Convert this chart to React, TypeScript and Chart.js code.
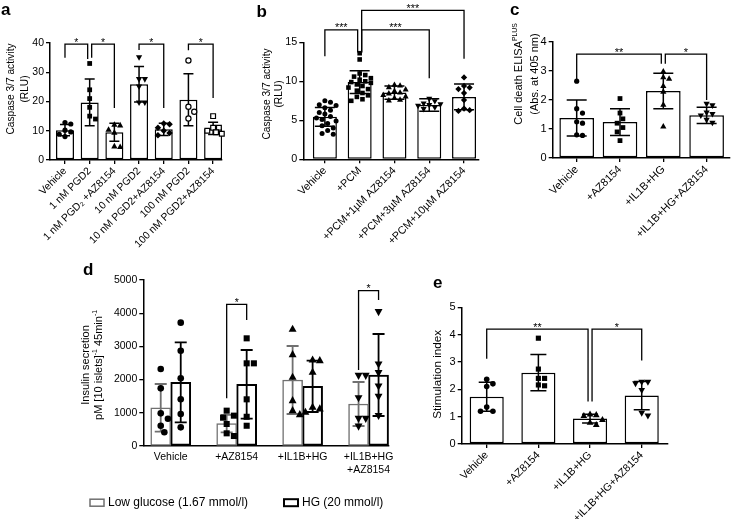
import React, { useEffect, useRef } from 'react';
import { Chart, registerables } from 'chart.js';

Chart.register(...registerables);

const FONT = "'Liberation Sans', Arial, Helvetica, sans-serif";

// ---------------- Panel a ----------------
const A_LABELS = ['Vehicle', '1 nM PGD2', '1 nM PGD\u2082 +AZ8154', '10 nM PGD2', '10 nM PGD2+AZ8154', '100 nM PGD2', '100 nM PGD2+AZ8154'];
const A_MEANS = [10.2, 19.7, 9.5, 25.9, 10.5, 20.6, 10.8];
const A_SD = [1.9, 8.0, 3.1, 6.1, 2.1, 8.9, 2.1];
const A_POINTS = [
  [12.8, 12.3, 10.2, 9.6, 8.8, 8.0],
  [33.0, 24.0, 21.0, 18.0, 15.0, 14.0],
  [12.2, 12.0, 10.5, 9.5, 4.8, 4.6],
  [35.0, 27.5, 27.5, 25.0, 19.5, 19.5],
  [12.5, 12.2, 11.0, 10.0, 9.2, 8.5],
  [34.0, 18.2, 16.5, 14.2],
  [15.0, 11.0, 11.0, 10.0, 9.5, 9.0],
];
const A_SHAPES = ['circle', 'square', 'triangle', 'triangleDown', 'diamond', 'openCircle', 'openSquare'];
const A_YTICKS = [0, 10, 20, 30, 40];
const A_BRACKETS: [number, number, number, number, number, string][] = [
  [0, 1, 39.6, 35.0, 34.5, '*'],
  [1, 2, 39.6, 35.0, 17.8, '*'],
  [3, 4, 39.6, 37.6, 17.8, '*'],
  [5, 6, 39.6, 37.5, 21.2, '*'],
];
const A_TITLE = ['Caspase 3/7 activity', '(RLU)'];

// ---------------- Panel b ----------------
const B_LABELS = ['Vehicle', '+PCM', '+PCM+1\u00b5M AZ8154', '+PCM+3\u00b5M AZ8154', '+PCM+10\u00b5M AZ8154'];
const B_MEANS = [5.45, 9.9, 8.55, 6.95, 8.0];
const B_SD = [1.2, 1.45, 0.85, 0.8, 1.65];
const B_POINTS = [
  [7.5, 7.3, 7.0, 6.9, 6.6, 6.3, 6.0, 5.8, 5.5, 5.3, 5.1, 4.9, 4.6, 4.3, 4.0, 3.7, 3.3, 3.2],
  [13.6, 12.8, 11.0, 10.8, 10.6, 10.4, 10.2, 10.0, 9.9, 9.8, 9.6, 9.4, 9.2, 9.0, 8.8, 8.5, 8.2, 8.0, 7.7, 7.5],
  [9.6, 9.5, 9.3, 9.0, 8.8, 8.6, 8.5, 8.3, 8.1, 7.9, 7.7, 7.6],
  [7.7, 7.4, 7.1, 7.0, 6.9, 6.8, 6.6, 6.4],
  [10.5, 9.4, 9.2, 9.0, 8.5, 7.6, 6.5, 6.3, 6.2],
];
const B_SHAPES = ['circle', 'square', 'triangle', 'triangleDown', 'diamond'];
const B_YTICKS = [0, 5, 10, 15];
const B_BRACKETS: [number, number, number, number, number, string][] = [
  [0, 1, 16.6, 13.2, 13.7, '***'],
  [1, 3, 16.6, 13.7, 10.4, '***'],
  [1, 4, 19.1, 13.7, 12.9, '***'],
];
const B_TITLE = ['Caspase 3/7 activity', '(RLU)'];

// ---------------- Panel c ----------------
const C_LABELS = ['Vehicle', '+AZ8154', '+IL1B+HG', '+IL1B+HG+AZ8154'];
const C_MEANS = [1.38, 1.24, 2.31, 1.47];
const C_SD = [0.62, 0.46, 0.61, 0.28];
const C_POINTS = [
  [2.65, 1.7, 1.55, 1.25, 1.2, 0.8, 0.78],
  [2.05, 1.55, 1.35, 1.2, 1.05, 0.9, 0.6],
  [3.0, 2.8, 2.75, 2.5, 2.3, 1.85, 1.1],
  [1.85, 1.8, 1.55, 1.5, 1.45, 1.3, 1.2],
];
const C_SHAPES = ['circle', 'square', 'triangle', 'triangleDown'];
const C_YTICKS = [0, 1, 2, 3, 4];
const C_BRACKETS: [number, number, number, number, number, string][] = [
  [0, 2, 3.58, 2.72, 3.25, '**'],
  [2, 3, 3.58, 3.25, 2.0, '*'],
];
const C_TITLE = ['Cell death ELISA^{PLUS}', '(Abs. at 405 nm)'];

// ---------------- Panel d ----------------
const D_LABELS: (string | string[])[] = ['Vehicle', '+AZ8154', '+IL1B+HG', ['+IL1B+HG', '+AZ8154']];
const D_SERIES_LABELS = ['Low glucose (1.67 mmol/l)', 'HG (20 mmol/l)'];
const D_LG_MEANS = [1150, 673, 1988, 1265];
const D_LG_SD = [717, 262, 1024, 663];
const D_HG_MEANS = [1918, 1857, 1797, 2138];
const D_HG_SD = [1204, 1035, 773, 1235];
const D_LG_POINTS = [
  [2320, 1737, 984, 823, 612, 412],
  [1064, 914, 853, 663, 382, 301],
  [3534, 2771, 2088, 1386, 1084, 964],
  [2108, 2108, 1436, 813, 813, 582],
];
const D_HG_POINTS = [
  [3715, 2871, 2038, 1406, 964, 562],
  [3243, 2490, 2490, 1406, 880, 610],
  [2610, 2590, 2240, 1185, 1135, 1034],
  [4030, 2450, 2190, 1790, 1480, 900],
];
const D_SHAPES = ['circle', 'square', 'triangle', 'triangleDown'];
const D_YTICKS = [0, 1000, 2000, 3000, 4000, 5000];
// [group, group, top, end low-glucose leg, end HG leg, text]
const D_BRACKETS: [number, number, number, number, number, string][] = [
  [1, 1, 4267, 1436, 3795, '*'],
  [3, 3, 4679, 2290, 4398, '*'],
];
const D_TITLE = ['Insulin secretion', 'pM [10 islets]^{-1} 45min^{-1}'];

// ---------------- Panel e ----------------
const E_LABELS = ['Vehicle', '+AZ8154', '+IL1B+HG', '+IL1B+HG+AZ8154'];
const E_MEANS = [1.73, 2.61, 0.93, 1.77];
const E_SD = [0.53, 0.66, 0.16, 0.52];
const E_POINTS = [
  [2.37, 2.2, 2.1, 1.35, 1.2, 1.2],
  [3.87, 2.74, 2.4, 2.4, 2.16, 2.13],
  [1.1, 1.08, 1.05, 0.9, 0.8, 0.72],
  [2.25, 2.25, 2.2, 1.95, 1.12, 1.02],
];
const E_SHAPES = ['circle', 'square', 'triangle', 'triangleDown'];
const E_YTICKS = [0, 1, 2, 3, 4, 5];
const E_BRACKETS: [number, number, number, number, number, string][] = [
  [0, 2, 4.2, 3.12, 1.55, '**'],
  [2, 3, 4.2, 1.55, 3.05, '*'],
];
const E_TITLE = ['Stimulation index'];

// ---------------- types ----------------
interface Series {
  label: string;
  means: number[];
  sd: number[];
  points: number[][];
  shapes: string[];
  color: string;
  bw: number;
  errColor: string;
}
interface Br { a: [number, number]; b: [number, number]; top: number; ea: number; eb: number; t: string }
interface Spec {
  left: number; top: number; w: number; h: number;
  L: number; R: number; T: number; B: number;
  xMin: number; xMax: number;
  yTicks: number[];
  labels: (string | string[])[];
  rot: number; font: number; yFont: number; xTickMarks: boolean; labelPad: number;
  barPct?: number; barThickness?: number;
  series: Series[];
  cap: number; pd: number; errW: number;
  brackets: Br[];
  title: string[]; titleX: number[]; titleY: number; titleSize: number;
  letter: string; letterX: number; letterY: number;
  legend?: { x: number[]; y: number; size: number };
}

const single = (label: string, means: number[], sd: number[], points: number[][], shapes: string[]): Series => ({
  label, means, sd, points, shapes, color: '#000', bw: 1.5, errColor: '#000',
});
const br1 = (arr: [number, number, number, number, number, string][]): Br[] =>
  arr.map(([f, t, top, ea, eb, s]) => ({ a: [f, 0], b: [t, 0], top, ea, eb, t: s }));

// ---------------- drawing helpers ----------------
function swarm(ys: number[], d: number, maxOff: number): number[] {
  const placed: { x: number; y: number }[] = [];
  const out: number[] = [];
  const step = d * 0.5;
  for (const y of ys) {
    let chosen: number | null = null;
    let bestOff = 0;
    let bestDist = -1;
    for (let k = 0; k < 60; k++) {
      const off = (k % 2 === 1 ? 1 : -1) * Math.ceil(k / 2) * step;
      if (Math.abs(off) > maxOff) continue;
      let minD = Infinity;
      for (const p of placed) minD = Math.min(minD, Math.hypot(p.x - off, p.y - y));
      if (minD >= d) { chosen = off; break; }
      if (minD > bestDist) { bestDist = minD; bestOff = off; }
    }
    const o = chosen === null ? bestOff : chosen;
    placed.push({ x: o, y });
    out.push(o);
  }
  return out;
}

function drawShape(ctx: CanvasRenderingContext2D, shape: string, x: number, y: number, r: number) {
  const open = shape === 'openCircle' || shape === 'openSquare';
  const base = shape === 'openCircle' ? 'circle' : shape === 'openSquare' ? 'square' : shape;
  ctx.beginPath();
  if (base === 'circle') {
    ctx.arc(x, y, r, 0, Math.PI * 2);
  } else if (base === 'square') {
    const h = r * 0.92;
    ctx.rect(x - h, y - h, 2 * h, 2 * h);
  } else if (base === 'triangle') {
    const h = r * 1.2;
    ctx.moveTo(x, y - h);
    ctx.lineTo(x + h, y + h * 0.8);
    ctx.lineTo(x - h, y + h * 0.8);
    ctx.closePath();
  } else if (base === 'triangleDown') {
    const h = r * 1.2;
    ctx.moveTo(x, y + h);
    ctx.lineTo(x + h, y - h * 0.8);
    ctx.lineTo(x - h, y - h * 0.8);
    ctx.closePath();
  } else if (base === 'diamond') {
    const h = r * 1.25;
    ctx.moveTo(x, y - h);
    ctx.lineTo(x + h, y);
    ctx.lineTo(x, y + h);
    ctx.lineTo(x - h, y);
    ctx.closePath();
  }
  if (open) {
    ctx.fillStyle = '#fff';
    ctx.fill();
    ctx.lineWidth = 1.2;
    ctx.strokeStyle = '#000';
    ctx.stroke();
  } else {
    ctx.fillStyle = '#000';
    ctx.fill();
  }
}

function parseSegs(s: string): { t: string; sup: boolean }[] {
  const out: { t: string; sup: boolean }[] = [];
  const re = /\^\{([^}]*)\}/g;
  let last = 0;
  let m: RegExpExecArray | null;
  while ((m = re.exec(s))) {
    if (m.index > last) out.push({ t: s.slice(last, m.index), sup: false });
    out.push({ t: m[1], sup: true });
    last = m.index + m[0].length;
  }
  if (last < s.length) out.push({ t: s.slice(last), sup: false });
  return out;
}

function overlay(sp: Spec) {
  return {
    id: 'overlay' + sp.letter,
    afterDraw(chart: any) {
      const ctx: CanvasRenderingContext2D = chart.ctx;
      const ys = chart.scales.y;
      ctx.save();
      // error bars + points
      sp.series.forEach((s, k) => {
        const meta = chart.getDatasetMeta(k);
        s.means.forEach((m, i) => {
          const el = meta.data[i];
          const cx = el.x;
          const halfW = el.width / 2;
          const yt = ys.getPixelForValue(m + s.sd[i]);
          const yb = ys.getPixelForValue(Math.max(0, m - s.sd[i]));
          ctx.strokeStyle = s.errColor;
          ctx.lineWidth = sp.errW;
          ctx.beginPath();
          ctx.moveTo(cx, yt);
          ctx.lineTo(cx, yb);
          ctx.moveTo(cx - sp.cap, yt);
          ctx.lineTo(cx + sp.cap, yt);
          ctx.moveTo(cx - sp.cap, yb);
          ctx.lineTo(cx + sp.cap, yb);
          ctx.stroke();
          const pys = s.points[i].map((v) => ys.getPixelForValue(v));
          const offs = swarm(pys, sp.pd + 0.6, halfW + 1);
          pys.forEach((py, j) => drawShape(ctx, s.shapes[i], cx + offs[j], py, sp.pd / 2));
        });
      });
      // brackets
      ctx.strokeStyle = '#000';
      ctx.lineWidth = 1.3;
      ctx.fillStyle = '#000';
      ctx.font = `${sp.font}px ${FONT}`;
      ctx.textAlign = 'center';
      ctx.textBaseline = 'alphabetic';
      const same = (p: [number, number], q: [number, number]) => p[0] === q[0] && p[1] === q[1];
      sp.brackets.forEach((b, bi) => {
        const sharedL = sp.brackets.some((o, oi) => oi !== bi && same(o.b, b.a));
        const sharedR = sp.brackets.some((o, oi) => oi !== bi && same(o.a, b.b));
        const xa = chart.getDatasetMeta(b.a[1]).data[b.a[0]].x + (sharedL ? 2 : 0);
        const xb = chart.getDatasetMeta(b.b[1]).data[b.b[0]].x - (sharedR ? 2 : 0);
        const yt = ys.getPixelForValue(b.top);
        ctx.beginPath();
        ctx.moveTo(xa, ys.getPixelForValue(b.ea));
        ctx.lineTo(xa, yt);
        ctx.lineTo(xb, yt);
        ctx.lineTo(xb, ys.getPixelForValue(b.eb));
        ctx.stroke();
        ctx.fillText(b.t, (xa + xb) / 2, yt + 1.5);
      });
      // y title
      sp.title.forEach((line, li) => {
        const segs = parseSegs(line);
        ctx.save();
        ctx.translate(sp.titleX[li], sp.titleY);
        ctx.rotate(-Math.PI / 2);
        ctx.textAlign = 'left';
        ctx.textBaseline = 'middle';
        const widths = segs.map((sg) => {
          ctx.font = `${sg.sup ? sp.titleSize * 0.62 : sp.titleSize}px ${FONT}`;
          return ctx.measureText(sg.t).width;
        });
        let x = -widths.reduce((a, c) => a + c, 0) / 2;
        segs.forEach((sg, si) => {
          ctx.font = `${sg.sup ? sp.titleSize * 0.62 : sp.titleSize}px ${FONT}`;
          ctx.fillText(sg.t, x, sg.sup ? -sp.titleSize * 0.38 : 0);
          x += widths[si];
        });
        ctx.restore();
      });
      // panel letter
      ctx.font = `bold 17px ${FONT}`;
      ctx.textAlign = 'left';
      ctx.textBaseline = 'alphabetic';
      ctx.fillText(sp.letter, sp.letterX, sp.letterY);
      // legend
      if (sp.legend) {
        const lg = sp.legend;
        sp.series.forEach((s, k) => {
          ctx.strokeStyle = s.color;
          ctx.lineWidth = s.bw;
          ctx.strokeRect(lg.x[k], lg.y - 3.5, 14, 7);
          ctx.fillStyle = '#000';
          ctx.font = `${lg.size}px ${FONT}`;
          ctx.textBaseline = 'middle';
          ctx.fillText(chart.data.datasets[k].label, lg.x[k] + 18, lg.y);
        });
      }
      ctx.restore();
    },
  };
}

function buildConfig(sp: Spec): any {
  const tickFont = { family: FONT, size: sp.font };
  return {
    type: 'bar',
    data: {
      datasets: sp.series.map((s) => ({
        label: s.label,
        data: s.means.map((m, i) => ({ x: i, y: m })),
        backgroundColor: '#ffffff',
        borderColor: s.color,
        borderWidth: s.bw,
        borderSkipped: false,
        categoryPercentage: 1,
        barPercentage: sp.barPct ?? 1,
        barThickness: sp.barThickness,
      })),
    },
    options: {
      animation: false,
      responsive: false,
      maintainAspectRatio: false,
      devicePixelRatio: 1,
      events: [],
      layout: { padding: { left: 0, top: sp.T, right: sp.w - sp.R, bottom: 0 } },
      plugins: { legend: { display: false }, tooltip: { enabled: false }, title: { display: false } },
      scales: {
        x: {
          type: 'linear',
          min: sp.xMin,
          max: sp.xMax,
          offset: false,
          bounds: 'data',
          afterBuildTicks: (s: any) => { s.ticks = sp.labels.map((_, i) => ({ value: i })); },
          afterFit: (s: any) => { s.height = sp.h - sp.B; },
          ticks: {
            autoSkip: false,
            minRotation: sp.rot,
            maxRotation: sp.rot,
            padding: sp.labelPad,
            color: '#000',
            font: tickFont,
            callback: (v: number) => sp.labels[Math.round(v)],
          },
          grid: { display: true, drawOnChartArea: false, drawTicks: sp.xTickMarks, tickLength: 4, color: '#000', lineWidth: 1.3, offset: false },
          border: { display: true, color: '#000', width: 1.5 },
        },
        y: {
          type: 'linear',
          min: 0,
          max: sp.yTicks[sp.yTicks.length - 1],
          afterBuildTicks: (s: any) => { s.ticks = sp.yTicks.map((v) => ({ value: v })); },
          afterFit: (s: any) => { s.width = sp.L; },
          ticks: { padding: 2, color: '#000', font: { family: FONT, size: sp.yFont }, callback: (v: number) => String(v) },
          grid: { display: true, drawOnChartArea: false, drawTicks: true, tickLength: 4, color: '#000', lineWidth: 1.3 },
          border: { display: true, color: '#000', width: 1.5 },
        },
      },
    },
    plugins: [overlay(sp)],
  };
}

// ---------------- panel specs ----------------
const SPECS: Spec[] = [
  {
    left: 0, top: 0, w: 238, h: 250, L: 50, R: 222, T: 43, B: 160,
    xMin: -0.607, xMax: 6.36, yTicks: A_YTICKS, labels: A_LABELS, rot: 45, font: 10.4, yFont: 10.5, xTickMarks: true, labelPad: 1,
    barPct: 0.73, series: [single('a', A_MEANS, A_SD, A_POINTS, A_SHAPES)],
    cap: 5, pd: 5.2, errW: 1.5, brackets: br1(A_BRACKETS),
    title: A_TITLE, titleX: [10.7, 25], titleY: 89, titleSize: 10.2,
    letter: 'a', letterX: 1, letterY: 15,
  },
  {
    left: 238, top: 0, w: 246, h: 250, L: 65.3, R: 240.3, T: 42.3, B: 159.3,
    xMin: -0.62, xMax: 4.41, yTicks: B_YTICKS, labels: B_LABELS, rot: 45, font: 10.8, yFont: 10.8, xTickMarks: true, labelPad: 1,
    barPct: 0.69, series: [single('b', B_MEANS, B_SD, B_POINTS, B_SHAPES)],
    cap: 10, pd: 5, errW: 1.5, brackets: br1(B_BRACKETS),
    title: B_TITLE, titleX: [28.7, 41.3], titleY: 94, titleSize: 10.2,
    letter: 'b', letterX: 18.5, letterY: 16.7,
  },
  {
    left: 484, top: 0, w: 248, h: 250, L: 68.7, R: 246, T: 42, B: 158,
    xMin: -0.554, xMax: 3.54, yTicks: C_YTICKS, labels: C_LABELS, rot: 45, font: 11, yFont: 11, xTickMarks: true, labelPad: 1,
    barPct: 0.8, series: [single('c', C_MEANS, C_SD, C_POINTS, C_SHAPES)],
    cap: 10, pd: 5.2, errW: 1.5, brackets: br1(C_BRACKETS),
    title: C_TITLE, titleX: [35.3, 51], titleY: 74, titleSize: 11,
    letter: 'c', letterX: 26, letterY: 15,
  },
  {
    left: 0, top: 250, w: 400, h: 269, L: 143.3, R: 389, T: 30, B: 196,
    xMin: -0.416, xMax: 3.31, yTicks: D_YTICKS, labels: D_LABELS, rot: 0, font: 10.5, yFont: 10.5, xTickMarks: false, labelPad: 5,
    barThickness: 20,
    series: [
      { label: D_SERIES_LABELS[0], means: D_LG_MEANS, sd: D_LG_SD, points: D_LG_POINTS, shapes: D_SHAPES, color: '#707070', bw: 1.5, errColor: '#707070' },
      { label: D_SERIES_LABELS[1], means: D_HG_MEANS, sd: D_HG_SD, points: D_HG_POINTS, shapes: D_SHAPES, color: '#000', bw: 2, errColor: '#000' },
    ],
    cap: 6, pd: 6.6, errW: 1.8,
    brackets: D_BRACKETS.map(([f, t, top, ea, eb, s]) => ({ a: [f, 0] as [number, number], b: [t, 1] as [number, number], top, ea, eb, t: s })),
    title: D_TITLE, titleX: [86, 99.3], titleY: 115, titleSize: 11,
    letter: 'd', letterX: 83, letterY: 25,
    legend: { x: [90, 284], y: 252.7, size: 12 },
  },
  {
    left: 400, top: 250, w: 332, h: 269, L: 61.7, R: 267.3, T: 57.3, B: 194,
    xMin: -0.484, xMax: 3.495, yTicks: E_YTICKS, labels: E_LABELS, rot: 45, font: 10.7, yFont: 11, xTickMarks: true, labelPad: 1,
    barPct: 0.66, series: [single('e', E_MEANS, E_SD, E_POINTS, E_SHAPES)],
    cap: 8, pd: 5.6, errW: 1.5, brackets: br1(E_BRACKETS),
    title: E_TITLE, titleX: [38], titleY: 124.3, titleSize: 11.7,
    letter: 'e', letterX: 33, letterY: 38,
  },
];

function Panel({ spec }: { spec: Spec }) {
  const ref = useRef<HTMLCanvasElement>(null);
  useEffect(() => {
    const chart = new Chart(ref.current as HTMLCanvasElement, buildConfig(spec));
    return () => chart.destroy();
  }, [spec]);
  return (
    <canvas
      ref={ref}
      width={spec.w}
      height={spec.h}
      style={{ position: 'absolute', left: spec.left, top: spec.top, width: spec.w, height: spec.h }}
    />
  );
}

export default function App() {
  return (
    <div style={{ position: 'absolute', left: 0, top: 0, width: 732, height: 519, background: '#fff' }}>
      {SPECS.map((s) => (
        <Panel key={s.letter} spec={s} />
      ))}
    </div>
  );
}
